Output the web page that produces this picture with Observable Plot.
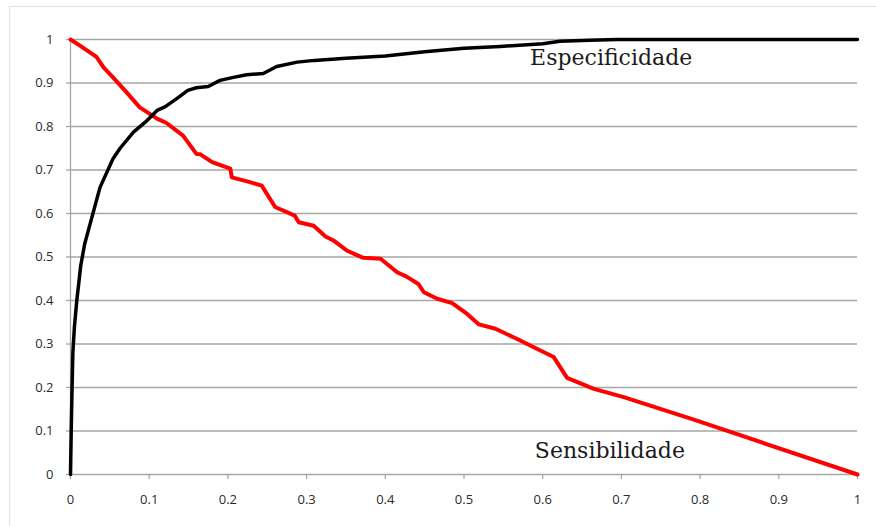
<!DOCTYPE html>
<html>
<head>
<meta charset="utf-8">
<script src="https://cdn.jsdelivr.net/npm/d3@7"></script>
<script src="https://cdn.jsdelivr.net/npm/@observablehq/plot@0.6"></script>
<style>
  html, body { margin: 0; padding: 0; background: #fff; }
  #wrap { position: relative; width: 876px; height: 526px; overflow: hidden; }
  #frame { position: absolute; left: 9px; top: 6px; width: 900px; height: 600px;
           border-top: 1.5px solid #dce2ea; border-left: 1.5px solid #dce2ea; }
  #chart { position: absolute; left: 0; top: 0; }
</style>
</head>
<body>
<div id="wrap"><div id="frame"></div><div id="chart"></div></div>
<script>
// Especificidade (black)
const specX = [0, 0.001, 0.002, 0.003, 0.005, 0.008, 0.013, 0.018, 0.027, 0.0375, 0.045, 0.054, 0.063, 0.08, 0.095, 0.11, 0.12, 0.135, 0.149, 0.16, 0.175, 0.19, 0.207, 0.224, 0.245, 0.262, 0.288, 0.31, 0.35, 0.4, 0.45, 0.5, 0.546, 0.6, 0.622, 0.66, 0.694, 1.0];
const specY = [0, 0.11, 0.2, 0.28, 0.34, 0.4, 0.48, 0.53, 0.59, 0.66, 0.69, 0.726, 0.75, 0.787, 0.81, 0.837, 0.845, 0.864, 0.883, 0.889, 0.892, 0.906, 0.913, 0.919, 0.922, 0.938, 0.948, 0.952, 0.957, 0.962, 0.972, 0.98, 0.984, 0.99, 0.996, 0.998, 1.0, 1.0];
// Sensibilidade (red)
const sensX = [0, 0.012, 0.033, 0.042, 0.054, 0.071, 0.088, 0.11, 0.122, 0.143, 0.16, 0.165, 0.18, 0.203, 0.205, 0.228, 0.243, 0.26, 0.285, 0.29, 0.309, 0.324, 0.334, 0.351, 0.372, 0.394, 0.415, 0.427, 0.442, 0.449, 0.466, 0.485, 0.504, 0.519, 0.54, 0.567, 0.588, 0.614, 0.631, 0.665, 0.703, 0.792, 1.0];
const sensY = [1, 0.986, 0.96, 0.936, 0.913, 0.879, 0.844, 0.818, 0.808, 0.779, 0.737, 0.736, 0.718, 0.703, 0.683, 0.672, 0.664, 0.615, 0.595, 0.58, 0.572, 0.547, 0.538, 0.515, 0.498, 0.496, 0.465, 0.455, 0.438, 0.419, 0.404, 0.394, 0.369, 0.345, 0.335, 0.312, 0.293, 0.27, 0.222, 0.197, 0.178, 0.126, 0];
// Tick values and labels
const ticks = [0, 0.1, 0.2, 0.3, 0.4, 0.5, 0.6, 0.7, 0.8, 0.9, 1];
const tickLabels = ["0", "0.1", "0.2", "0.3", "0.4", "0.5", "0.6", "0.7", "0.8", "0.9", "1"];
// Curve labels
const labelText = ["Especificidade", "Sensibilidade"];
const labelX = [0.584, 0.59];
const labelY = [0.957, 0.055];

const spec = specX.map((x, i) => ({x, y: specY[i]}));
const sens = sensX.map((x, i) => ({x, y: sensY[i]}));
const labels = labelText.map((t, i) => ({t, x: labelX[i], y: labelY[i]}));
const fmt = d => tickLabels[ticks.findIndex(t => Math.abs(t - d) < 1e-9)];

const grid = "#a6a6a6";
const chart = Plot.plot({
  width: 876, height: 526,
  marginLeft: 70, marginRight: 19, marginTop: 39, marginBottom: 52,
  x: {domain: [0, 1]},
  y: {domain: [0, 1]},
  style: {fontFamily: "'Open Sans', sans-serif", fontSize: "13px", color: "#2b2b2b", background: "transparent", overflow: "visible"},
  marks: [
    Plot.gridY(ticks.slice(1), {stroke: grid, strokeOpacity: 1, strokeWidth: 1.3}),
    Plot.axisY(ticks, {tickSize: 4, tickPadding: 13, stroke: grid, strokeWidth: 1.3, tickFormat: fmt, label: null}),
    Plot.axisX(ticks, {tickSize: 5, tickPadding: 15, stroke: grid, strokeWidth: 1.3, tickFormat: fmt, label: null}),
    Plot.ruleY([0], {stroke: grid, strokeWidth: 1.3}),
    Plot.ruleX([0], {stroke: grid, strokeWidth: 1.3}),
    Plot.line(sens, {x: "x", y: "y", stroke: "#ff0000", strokeWidth: 4, strokeLinejoin: "round"}),
    Plot.line(spec, {x: "x", y: "y", stroke: "#000000", strokeWidth: 3.5, strokeLinejoin: "round"}),
    Plot.text(labels, {x: "x", y: "y", text: "t", textAnchor: "start", lineAnchor: "middle",
      fontFamily: "'DejaVu Serif', serif", fontSize: 22, fill: "#1a1a1a"})
  ]
});
document.getElementById("chart").appendChild(chart);
</script>
</body>
</html>
